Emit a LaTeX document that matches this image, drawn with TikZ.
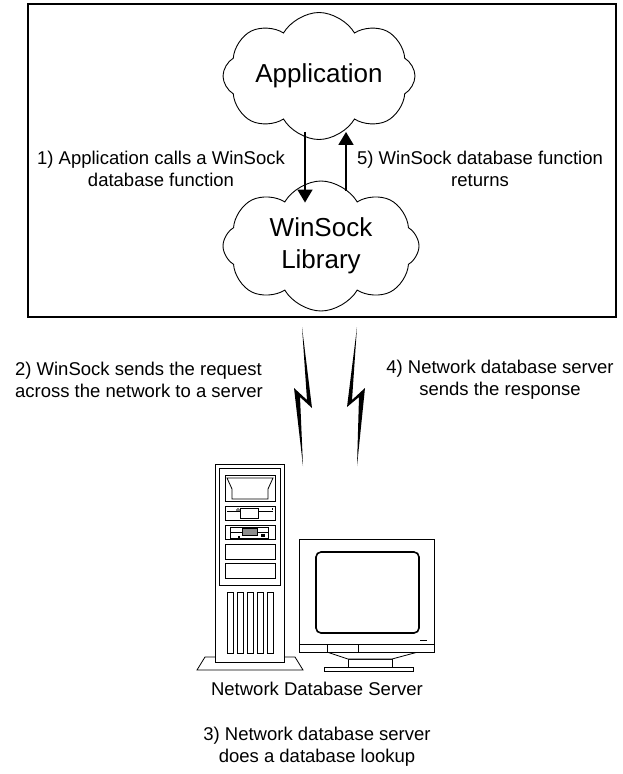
\documentclass[tikz,border=0pt]{standalone}
\usepackage{fontspec}
\setmainfont{Liberation Sans}
\usetikzlibrary{arrows.meta, positioning, shapes.symbols}

\begin{document}
\begin{tikzpicture}[x=1pt, y=-1pt,
    puff/.style={cloud, draw, cloud puffs=8, cloud puff arc=120,
                 aspect=1.74, cloud ignores aspect, inner sep=0pt,
                 line width=0.9pt, align=center,
                 font=\fontsize{26}{32}\selectfont},
    note/.style={align=center, font=\fontsize{18.5}{22}\selectfont},
    flow/.style={-{Triangle[length=13pt, width=15pt]}, line width=1.8pt},
    hw/.style={draw, line width=0.8pt, fill=white}]
  \useasboundingbox (0,0) rectangle (622,774);

  % host machine
  \node[draw, line width=2pt, inner sep=0pt, minimum width=588pt,
        minimum height=313pt] (host) at (322,160.5) {};
  \node[puff, minimum width=192pt, minimum height=127pt] (app) at (319,76) {Application};
  \node[puff, minimum width=196pt, minimum height=130pt] (lib) at (321,246) {WinSock\\Library};
  \coordinate (callx) at (305,0);
  \coordinate (retx) at (346,0);
  \draw[flow, shorten <=-8pt, shorten >=-22pt] (app.south -| callx) -- (lib.north -| callx);
  \draw[flow, shorten <=-10pt, shorten >=-8pt] (lib.north -| retx) -- (app.south -| retx);
  \node[note] (call) at (161,169) {1) Application calls a WinSock\\database function};
  \node[note] (ret) at (480,169) {5) WinSock database function\\returns};

  % network hops
  \fill (302,327) -- (312,408) -- (300,397) -- (303,466) -- (294,388) -- (307,400) -- cycle;
  \fill (357,327) -- (347,407) -- (359,397) -- (357,466) -- (365,388) -- (352,400) -- cycle;
  \node[note, align=left] (req) at (139,380) {2) WinSock sends the request\\across the network to a server};
  \node[note] (resp) at (500,380) {4) Network database server\\sends the response};

  % tower
  \draw[hw] (197,670) -- (205,657) -- (295,657) -- (303,670) -- cycle;
  \draw[hw] (215,464) rectangle (284,662);
  \draw[hw] (219,468) rectangle (280,585);
  \draw[hw] (225,475) rectangle (275,501);
  \draw[hw] (227,478) -- (273,478) -- (268,489) -- (268,499) -- (232,499) -- (232,489) -- cycle;
  \draw[hw] (225,506) rectangle (275,520);
  \draw[line width=0.6pt] (227,511) -- (273,511);
  \draw[hw, line width=0.6pt] (240,508) rectangle (258,518);
  \draw[line width=0.6pt] (238,510) circle (1.5);
  \fill (271.5,507.5) rectangle (273,509.5);
  \draw[hw] (225,525) rectangle (275,539);
  \draw[line width=0.6pt] (230,527) rectangle (268,538);
  \draw[line width=0.6pt] (230,532) -- (268,532);
  \draw[line width=0.6pt, fill=black!45] (242,528) rectangle (257,535);
  \fill (238,536) rectangle (240,538);
  \fill (261,534) rectangle (265,537);
  \draw[hw] (225,544) rectangle (275,559);
  \draw[hw] (225,563) rectangle (275,578);
  \foreach \vx in {227,237,...,267}
    \draw[line width=0.8pt] (\vx,592) rectangle (\vx+6,653);

  % monitor
  \draw[hw] (324,667) rectangle (413,671);
  \draw[hw] (348,659) rectangle (392,667);
  \draw[hw] (327,652) -- (348,659) -- (392,659) -- (418,652);
  \draw[hw] (299,539) rectangle (434,652);
  \draw[line width=0.8pt] (299,644) -- (434,644);
  \draw[line width=0.8pt] (327,644) -- (327,652) (358,644) -- (358,652);
  \draw[line width=1.6pt, rounded corners=5pt] (316,552) rectangle (419,633);
  \draw[line width=1pt] (420,640) -- (427,640);

  \node[note] (srv) at (317,689) {Network Database Server};
  \node[note] (lookup) at (317,747) {3) Network database server\\does a database lookup};
\end{tikzpicture}
\end{document}
